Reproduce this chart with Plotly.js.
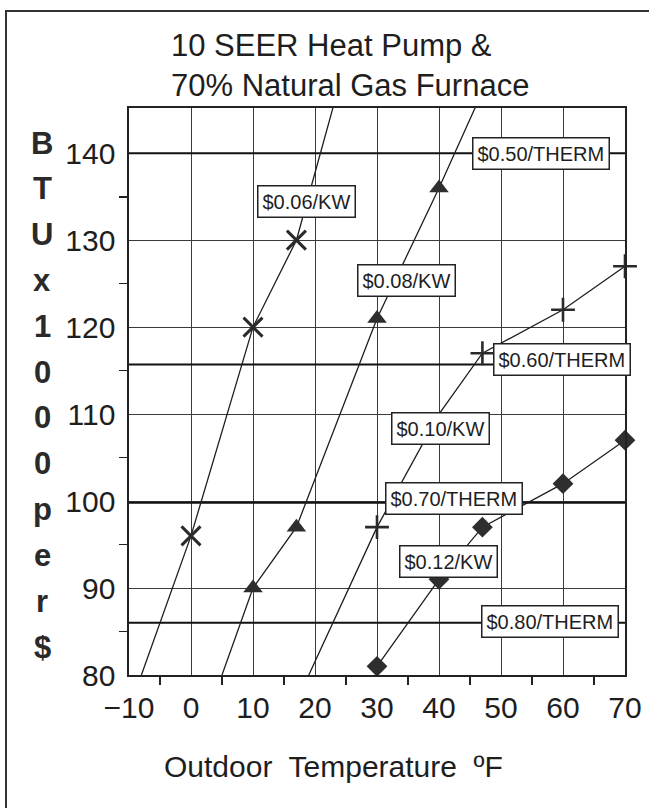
<!DOCTYPE html>
<html><head><meta charset="utf-8">
<script src="https://cdn.plot.ly/plotly-3.0.1.min.js"></script>
<style>html,body{margin:0;padding:0;background:#fff}</style>
</head><body><div id="chart" style="width:649px;height:808px"></div>
<script>
// ---- data ----
const xMinorTicks = [-5, 5, 15, 25, 35, 45, 55, 65];
const yMinorTicks = [85, 95, 105, 115, 125, 135];

const kw06MarkX = [0, 10, 17];
const kw06MarkY = [96, 120, 130];
const kw06LineX = [-8, 0, 10, 17, 23];
const kw06LineY = [80, 96, 120, 130, 145.5];

const kw08MarkX = [10, 17, 30, 40];
const kw08MarkY = [90, 97, 121, 136];
const kw08LineX = [5, 10, 17, 30, 40, 46];
const kw08LineY = [80, 90, 97, 121, 136, 145.5];

const kw10MarkX = [30, 47, 60, 70];
const kw10MarkY = [97, 117, 122, 127];
const kw10LineX = [19, 30, 40, 47, 60, 70];
const kw10LineY = [80, 97, 110, 117, 122, 127];

const kw12MarkX = [30, 40, 47, 60, 70];
const kw12MarkY = [81, 91, 97, 102, 107];
const kw12LineX = [30, 40, 47, 60, 70];
const kw12LineY = [81, 91, 97, 102, 107];

const thermNames = ['$0.50/THERM', '$0.60/THERM', '$0.70/THERM', '$0.80/THERM'];
const thermValues = [140, 115.7, 99.8, 86];
const thermLineX = [-10, 70];

const kwNames = ['$0.06/KW', '$0.08/KW', '$0.10/KW', '$0.12/KW'];

// label placement (layout)
const thermLabelX = [56.5, 59.8, 42.4, 57.9];
const thermLabelY = [140, 116.3, 100.3, 86.2];
const kwLabelX = [18.7, 34.8, 40.2, 41.5];
const kwLabelY = [134.5, 125.4, 108.4, 93.1];

const yTitleChars = ['B','T','U','x','1','0','0','0','p','e','r','$'];

// ---- build ----
const FONT = 'Liberation Sans, Arial, Helvetica, sans-serif';
const INK = '#1e1e1e';
const traces = [];

thermValues.forEach((v, i) => {
  traces.push({x: thermLineX, y: [v, v], mode: 'lines', name: thermNames[i],
    line: {color: '#111', width: 2}, hoverinfo: 'skip'});
});

function series(name, lx, ly, mx, my, marker) {
  traces.push({x: lx, y: ly, mode: 'lines', name: name, line: {color: INK, width: 1.3}});
  traces.push({x: mx, y: my, mode: 'markers', name: name, marker: marker, cliponaxis: false});
}
series(kwNames[0], kw06LineX, kw06LineY, kw06MarkX, kw06MarkY,
  {symbol: 'x-thin', size: 19, line: {color: '#2a2a2a', width: 3}});
series(kwNames[1], kw08LineX, kw08LineY, kw08MarkX, kw08MarkY,
  {symbol: 'triangle-up', size: 17, color: '#2e2e2e', line: {width: 0}});
series(kwNames[2], kw10LineX, kw10LineY, kw10MarkX, kw10MarkY,
  {symbol: 'cross-thin', size: 17, line: {color: '#2a2a2a', width: 2.6}});
series(kwNames[3], kw12LineX, kw12LineY, kw12MarkX, kw12MarkY,
  {symbol: 'diamond', size: 16, color: '#2e2e2e', line: {width: 0}});

const W = 649, H = 808, ML = 129, MR = 24, MT = 108, MB = 133;
const PW = W - ML - MR, PH = H - MT - MB;
const px2x = p => (p - ML) / PW;
const py2y = p => (H - MB - p) / PH;

const annotations = [];
function boxLabel(text, x, y) {
  annotations.push({x: x, y: y, xref: 'x', yref: 'y', text: text, showarrow: false,
    font: {family: FONT, size: 20, color: INK}, bgcolor: '#fff',
    bordercolor: '#222', borderwidth: 1.5, borderpad: 4, xanchor: 'center', yanchor: 'middle'});
}
thermNames.forEach((t, i) => boxLabel(t, thermLabelX[i], thermLabelY[i]));
kwNames.forEach((t, i) => boxLabel(t, kwLabelX[i], kwLabelY[i]));

// stacked y-axis title
const firstC = 143, stepC = (647 - 143) / (yTitleChars.length - 1);
yTitleChars.forEach((c, i) => {
  annotations.push({text: c, showarrow: false, xref: 'paper', yref: 'paper',
    x: px2x(42), y: py2y(firstC + i * stepC), xanchor: 'center', yanchor: 'middle',
    font: {family: FONT, size: 31, color: '#2a2a2a', weight: 'bold'}});
});
// x-axis title
annotations.push({text: 'Outdoor\u00a0 Temperature\u00a0 \u00baF', showarrow: false,
  xref: 'paper', yref: 'paper', x: px2x(333), y: py2y(766), xanchor: 'center', yanchor: 'middle',
  font: {family: FONT, size: 30, color: INK}});

const axisCommon = {
  showgrid: true, gridcolor: '#3a3a3a', gridwidth: 1, zeroline: false,
  showline: true, mirror: true, linecolor: '#222', linewidth: 1.6,
  ticks: '', tickfont: {family: FONT, size: 30, color: INK}, fixedrange: true
};

const layout = {
  width: W, height: H, showlegend: false,
  paper_bgcolor: '#fff', plot_bgcolor: '#fff',
  margin: {l: ML, r: MR, t: MT, b: MB, pad: 0},
  font: {family: FONT, color: INK},
  title: {text: '10 SEER Heat Pump &<br>70% Natural Gas Furnace',
    font: {family: FONT, size: 31, color: INK},
    xref: 'container', x: 171 / W, xanchor: 'left',
    yref: 'container', y: 1 - 56 / H, yanchor: 'top'},
  xaxis: Object.assign({}, axisCommon, {range: [-10, 70], tick0: 0, dtick: 10,
    ticklabelstandoff: 5,
    minor: {tickmode: 'array', tickvals: xMinorTicks, ticks: 'outside', ticklen: 8,
      tickwidth: 1.6, tickcolor: '#222', showgrid: false}}),
  yaxis: Object.assign({}, axisCommon, {range: [80, 145.2], tick0: 80, dtick: 10,
    ticklabelstandoff: 6,
    minor: {tickmode: 'array', tickvals: yMinorTicks, ticks: 'outside', ticklen: 8,
      tickwidth: 1.6, tickcolor: '#222', showgrid: false}}),
  annotations: annotations,
  shapes: [{type: 'rect', xref: 'paper', yref: 'paper',
    x0: px2x(6), x1: px2x(670), y0: py2y(830), y1: py2y(11),
    line: {color: '#333', width: 2}, fillcolor: 'rgba(0,0,0,0)', layer: 'below'}]
};

Plotly.newPlot('chart', traces, layout, {displayModeBar: false, staticPlot: true});
</script></body></html>
